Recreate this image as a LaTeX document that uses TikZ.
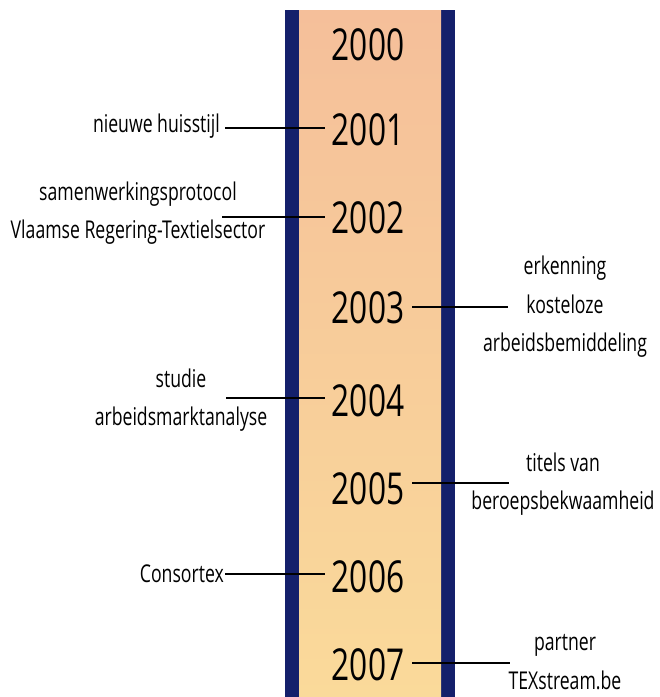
\documentclass[tikz,border=0pt]{standalone}
\usepackage{fontspec}
\setmainfont{Open Sans}[FakeStretch=0.72]
\definecolor{bandblue}{HTML}{14206B}
\definecolor{topfill}{HTML}{F5BF9A}
\definecolor{botfill}{HTML}{FADA9A}
\begin{document}
\begin{tikzpicture}[x=1pt,y=-1pt,
  year/.style={font=\fontsize{44}{48}\selectfont, inner sep=0pt, anchor=center},
  lab/.style={font=\fontsize{24.5}{38.5}\selectfont, inner sep=0pt, align=center},
  conn/.style={line width=2pt, black}]
\useasboundingbox (0,0) rectangle (660,697);
\fill[bandblue] (285,10) rectangle (455,697);
\shade[top color=topfill, bottom color=botfill] (299,10) rectangle (441,697);
\node[year] (y2000) at (368,45) {2000};
\node[year] (y2001) at (368,130) {2001};
\node[year] (y2002) at (368,218) {2002};
\node[year] (y2003) at (368,308) {2003};
\node[year] (y2004) at (368,401) {2004};
\node[year] (y2005) at (368,489) {2005};
\node[year] (y2006) at (368,577) {2006};
\node[year] (y2007) at (368,665) {2007};
% left labels
\node[lab, anchor=east] (l2001) at (220,126) {nieuwe huisstijl};
\node[lab] (l2002) at (138,213) {samenwerkingsprotocol\\Vlaamse Regering-Textielsector};
\node[lab] (l2004) at (181,400) {studie\\arbeidsmarktanalyse};
\node[lab, anchor=east] (l2006) at (224,574) {Consortex};
% right labels
\node[lab] (l2003) at (565,307) {erkenning\\kosteloze\\arbeidsbemiddeling};
\node[lab] (l2005) at (563,484) {titels van\\beroepsbekwaamheid};
\node[lab] (l2007) at (565,662) {partner\\TEXstream.be};
% connector ends
\coordinate (a2001) at (325,128);
\coordinate (b2001) at (225,128);
\coordinate (a2002) at (325,217);
\coordinate (b2002) at (222,217);
\coordinate (a2003) at (412,307);
\coordinate (b2003) at (508,307);
\coordinate (a2004) at (325,398);
\coordinate (b2004) at (226,398);
\coordinate (a2005) at (412,483);
\coordinate (b2005) at (509,483);
\coordinate (a2006) at (325,574);
\coordinate (b2006) at (225,574);
\coordinate (a2007) at (412,663);
\coordinate (b2007) at (510,663);
\draw[conn] (b2001) -- (a2001);
\draw[conn] (b2002) -- (a2002);
\draw[conn] (a2003) -- (b2003);
\draw[conn] (b2004) -- (a2004);
\draw[conn] (a2005) -- (b2005);
\draw[conn] (b2006) -- (a2006);
\draw[conn] (a2007) -- (b2007);
\end{tikzpicture}
\end{document}
